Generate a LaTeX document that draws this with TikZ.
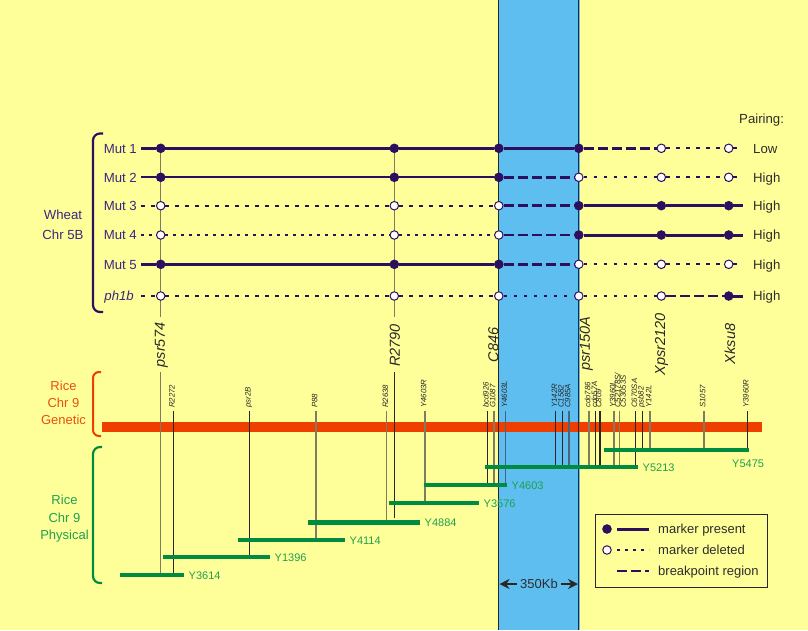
\documentclass[tikz,border=0pt]{standalone}
\usepackage{fontspec}
\setmainfont{Liberation Sans}
\usetikzlibrary{arrows.meta}
\definecolor{bgy}{RGB}{255,255,153}
\definecolor{band}{RGB}{94,190,240}
\definecolor{wc}{RGB}{45,15,95}
\definecolor{wtxt}{RGB}{58,38,130}
\definecolor{redb}{RGB}{238,62,0}
\definecolor{redt}{RGB}{232,80,20}
\definecolor{grb}{RGB}{0,140,64}
\definecolor{grt}{RGB}{30,160,80}
\definecolor{vg}{RGB}{125,125,100}
\definecolor{dk}{RGB}{40,40,40}
\definecolor{slate}{RGB}{70,100,130}
\definecolor{txt}{RGB}{45,45,45}
\newcommand\rowseg[3]{\draw[#1] (#2) -- (#3);}
\begin{document}
\begin{tikzpicture}[x=1pt,y=-1pt,
  dotn/.style={circle,inner sep=0pt,minimum size=8.5pt,draw=wc,line width=1pt},
  solA/.style={wc,line width=3pt},
  solB/.style={wc,line width=2.2pt},
  bp/.style={wc,line width=2.5pt,dash pattern=on 10pt off 4pt},
  del/.style={wc,line width=2.2pt,dash pattern=on 3.5pt off 6.5pt},
  delf/.style={wc,line width=1.2pt,dash pattern=on 3pt off 5pt},
  rowlab/.style={font=\fontsize{13.2}{15}\selectfont,text=wtxt,anchor=base east,inner sep=0pt},
  pairlab/.style={font=\fontsize{13.2}{15}\selectfont,text=txt,anchor=base west,inner sep=0pt},
  biglab/.style={font=\fontsize{14.5}{16}\selectfont\itshape,text=dk,rotate=90,inner sep=0pt},
  smlab/.style={font=\fontsize{7.8}{5.6}\selectfont\itshape,text=dk,rotate=90,anchor=base west,inner sep=0pt},
  gml/.style={line width=1.1pt},
  phys/.style={grb,line width=4pt},
  physlab/.style={font=\fontsize{11}{13}\selectfont,text=grt,anchor=west,inner sep=0pt},
  leglab/.style={font=\fontsize{13}{15}\selectfont,text=txt,anchor=base west,inner sep=0pt},
  bandedge/.style={draw=dk,line width=1.3pt},
  vline/.style={vg,line width=1.4pt}
]
\useasboundingbox (0,0) rectangle (808,630);
\fill[bgy] (0,0) rectangle (808,630);
% blue band
\fill[band] (498,0) rectangle (579.5,630);
% red genetic bar
\coordinate (redL) at (102,427);
\coordinate (redR) at (762,427);
\draw[redb,line width=10.5pt] (redL) -- (redR);
% band edges
\coordinate (ea1) at (498.8,0); \coordinate (ea2) at (498.8,630);
\coordinate (eb1) at (578.8,0); \coordinate (eb2) at (578.8,630);
\draw[bandedge] (ea1) -- (ea2);
\draw[bandedge] (eb1) -- (eb2);
% vertical marker lines in wheat area
\coordinate (pA1) at (160.7,148); \coordinate (pA2) at (160.7,317);
\coordinate (pA3) at (160.7,372); \coordinate (pA4) at (160.7,575);
\coordinate (pB1) at (394.3,148); \coordinate (pB2) at (394.3,317);
\coordinate (pB3) at (394.3,372); \coordinate (pB4) at (394.3,518);
\draw[vline] (pA1) -- (pA2);
\draw[vline] (pB1) -- (pB2);
\draw[vline] (pA3) -- (pA4);
\draw[dk,line width=1.2pt] (pB3) -- (pB4);
% big marker labels
\node[biglab] (lpsr574) at (161.5,345) {psr574};
\node[biglab] (lR2790) at (395,345.5) {R2790};
\node[biglab] (lC846) at (493.5,345) {C846};
\node[biglab] (lpsr150A) at (586.2,343.5) {psr150A};
\node[biglab] (lXpsr) at (661.5,344) {Xpsr2120};
\node[biglab] (lXksu) at (730,344) {Xksu8};
% genetic markers
\foreach \x/\t/\yb/\c [count=\i] in {
  173.3/R2272/575/dk, 249.3/psr2B/557/dk, 316/P88/540/vg, 386.7/R2638/520/vg,
  425/Y4603R/503/vg, 487.3/bcd926/485/dk, 494/G1087/485/vg, 505.7/Y4603L/485/slate,
  555.7/Y142R/467/dk, 562.3/C1582/467/dk, 569/C985A/467/slate, 589/cdo786/467/vg,
  595.7/cdo57A/467/dk, 600/C809/467/dk, 614/Y3960L/467/vg, 635.7/C670SA/467/dk,
  642.3/psb82/450/dk, 650/Y142L/450/vg, 704/S1057/451/vg, 747.3/Y3960R/450/dk}{
  \coordinate (gt\i) at (\x,411);
  \coordinate (gb\i) at (\x,\yb);
  \node[smlab] (gl\i) at (\x+1.3,408) {\t};
  \draw[gml,draw=\c] (gt\i) -- (gb\i);
}
\coordinate (gtx) at (619.3,411); \coordinate (gbx) at (619.3,467);
\node[smlab,anchor=west,align=left] (glx) at (620.3,408) {C52178S/\\C53053S};
\draw[gml,draw=vg] (gtx) -- (gbx);
% physical map
\foreach \a/\b/\y/\t/\w [count=\i] in {
  120/184/575/Y3614/4, 163/270/557/Y1396/4, 238/345/540/Y4114/4, 308/420/522/Y4884/5,
  389/479/503/Y3576/4, 424/507/485/Y4603/4, 485/638/467/Y5213/4}{
  \coordinate (ba\i) at (\a,\y);
  \coordinate (bb\i) at (\b,\y);
  \draw[phys,line width=\w pt] (ba\i) -- (bb\i);
  \node[physlab] (bl\i) at (\b+4.5,\y+1) {\t};
}
\coordinate (ba8) at (604,450); \coordinate (bb8) at (749,450);
\draw[phys] (ba8) -- (bb8);
\node[physlab] (bl8) at (732,463.5) {Y5475};
% rows
\foreach \r/\y in {1/148.3,2/177.3,3/205.7,4/235,5/264.3,6/296}{
  \coordinate (s\r) at (141,\y);
  \coordinate (e\r) at (743,\y);
}
\coordinate (e2) at (738,177.3);
\foreach \r/\y/\fa/\fb/\fc/\fd/\fe/\ff in {
  1/148.3/wc/wc/wc/wc/white/white,
  2/177.3/wc/wc/wc/white/white/white,
  3/205.7/white/white/white/wc/wc/wc,
  4/235/white/white/white/wc/wc/wc,
  5/264.3/wc/wc/wc/white/white/white,
  6/296/white/white/white/white/white/wc}{
  \node[dotn,fill=\fa] (r\r c1) at (160.7,\y) {};
  \node[dotn,fill=\fb] (r\r c2) at (394.3,\y) {};
  \node[dotn,fill=\fc] (r\r c3) at (498.8,\y) {};
  \node[dotn,fill=\fd] (r\r c4) at (578.8,\y) {};
  \node[dotn,fill=\fe] (r\r c5) at (661.3,\y) {};
  \node[dotn,fill=\ff] (r\r c6) at (728.7,\y) {};
}
% Mut 1
\rowseg{solA}{s1}{r1c1}\rowseg{solA}{r1c1}{r1c2}\rowseg{solA}{r1c2}{r1c3}\rowseg{solA}{r1c3}{r1c4}
\rowseg{bp}{r1c4}{r1c5}\rowseg{del}{r1c5}{r1c6}\rowseg{del}{r1c6}{e1}
% Mut 2
\rowseg{solB}{s2}{r2c1}\rowseg{solB}{r2c1}{r2c2}\rowseg{solB}{r2c2}{r2c3}\rowseg{bp}{r2c3}{r2c4}
\rowseg{del}{r2c4}{r2c5}\rowseg{del}{r2c5}{r2c6}\rowseg{del}{r2c6}{e2}
% Mut 3
\rowseg{del}{s3}{r3c1}\rowseg{del}{r3c1}{r3c2}\rowseg{del}{r3c2}{r3c3}\rowseg{bp}{r3c3}{r3c4}
\rowseg{solA}{r3c4}{r3c5}\rowseg{solA}{r3c5}{r3c6}\rowseg{solA}{r3c6}{e3}
% Mut 4
\rowseg{delf}{s4}{r4c1}\rowseg{delf}{r4c1}{r4c2}\rowseg{delf}{r4c2}{r4c3}\rowseg{bp}{r4c3}{r4c4}
\rowseg{solA}{r4c4}{r4c5}\rowseg{solA}{r4c5}{r4c6}\rowseg{solA}{r4c6}{e4}
% Mut 5
\rowseg{solA}{s5}{r5c1}\rowseg{solA}{r5c1}{r5c2}\rowseg{solA}{r5c2}{r5c3}\rowseg{bp}{r5c3}{r5c4}
\rowseg{del}{r5c4}{r5c5}\rowseg{del}{r5c5}{r5c6}\rowseg{del}{r5c6}{e5}
% ph1b
\rowseg{del}{s6}{r6c1}\rowseg{del}{r6c1}{r6c2}\rowseg{del}{r6c2}{r6c3}\rowseg{del}{r6c3}{r6c4}
\rowseg{del}{r6c4}{r6c5}\rowseg{bp}{r6c5}{r6c6}\rowseg{solA}{r6c6}{e6}
% row labels
\node[rowlab] (n1) at (137,153) {Mut 1};
\node[rowlab] (n2) at (137,182) {Mut 2};
\node[rowlab] (n3) at (137,210.4) {Mut 3};
\node[rowlab] (n4) at (137,239.7) {Mut 4};
\node[rowlab] (n5) at (137,269) {Mut 5};
\node[rowlab] (n6) at (134,300.7) {\itshape ph1b};
% pairing
\node[pairlab] (pt) at (739,123.5) {Pairing:};
\node[pairlab] (q1) at (753,153) {Low};
\node[pairlab] (q2) at (753,182) {High};
\node[pairlab] (q3) at (753,210.4) {High};
\node[pairlab] (q4) at (753,239.7) {High};
\node[pairlab] (q5) at (753,269) {High};
\node[pairlab] (q6) at (753,300.7) {High};
% brackets
\coordinate (wb1) at (103,133.5); \coordinate (wb2) at (93,133.5);
\coordinate (wb3) at (93,312); \coordinate (wb4) at (103,312);
\draw[wc,line width=2.2pt,rounded corners=7pt] (wb1) -- (wb2) -- (wb3) -- (wb4);
\coordinate (rb1) at (101,372); \coordinate (rb2) at (93,372);
\coordinate (rb3) at (93,436); \coordinate (rb4) at (101,436);
\draw[redb,line width=2pt,rounded corners=6pt] (rb1) -- (rb2) -- (rb3) -- (rb4);
\coordinate (gb1x) at (102,447); \coordinate (gb2x) at (93,447);
\coordinate (gb3x) at (93,583); \coordinate (gb4x) at (102,583);
\draw[grb,line width=2.2pt,rounded corners=7pt] (gb1x) -- (gb2x) -- (gb3x) -- (gb4x);
\node[font=\fontsize{13.2}{20}\selectfont,text=wtxt,align=center,inner sep=0pt] (wheat) at (63,225) {Wheat\\Chr 5B};
\node[font=\fontsize{13}{17}\selectfont,text=redt,align=center,inner sep=0pt] (gen) at (63.5,403) {Rice\\Chr 9\\Genetic};
\node[font=\fontsize{13}{17.5}\selectfont,text=grt,align=center,inner sep=0pt] (phy) at (64.5,518.8) {Rice\\Chr 9\\Physical};
% legend
\node[draw=dk,line width=1pt,minimum width=172pt,minimum height=73pt,inner sep=0pt] (legend) at (681,550.5) {};
\node[dotn,fill=wc] (lg1) at (607,529) {};
\coordinate (lg1a) at (617,529); \coordinate (lg1b) at (649,529);
\draw[solA] (lg1a) -- (lg1b);
\node[leglab] (lt1) at (658,533.7) {marker present};
\node[dotn,fill=white] (lg2) at (607,550) {};
\coordinate (lg2a) at (617,550); \coordinate (lg2b) at (649,550);
\draw[delf] (lg2a) -- (lg2b);
\node[leglab] (lt2) at (658,554.7) {marker deleted};
\coordinate (lg3a) at (617,571); \coordinate (lg3b) at (649,571);
\draw[bp] (lg3a) -- (lg3b);
\node[leglab] (lt3) at (658,575.7) {breakpoint region};
% 350Kb
\node[font=\fontsize{13}{15}\selectfont,text=txt] (kb) at (539,584) {350Kb};
\coordinate (kbl) at (499.5,584); \coordinate (kbr) at (578,584);
\draw[dk,line width=2pt,-{Stealth[length=10pt,width=10pt]}] (kb.west) -- (kbl);
\draw[dk,line width=2pt,-{Stealth[length=10pt,width=10pt]}] (kb.east) -- (kbr);
\end{tikzpicture}
\end{document}
